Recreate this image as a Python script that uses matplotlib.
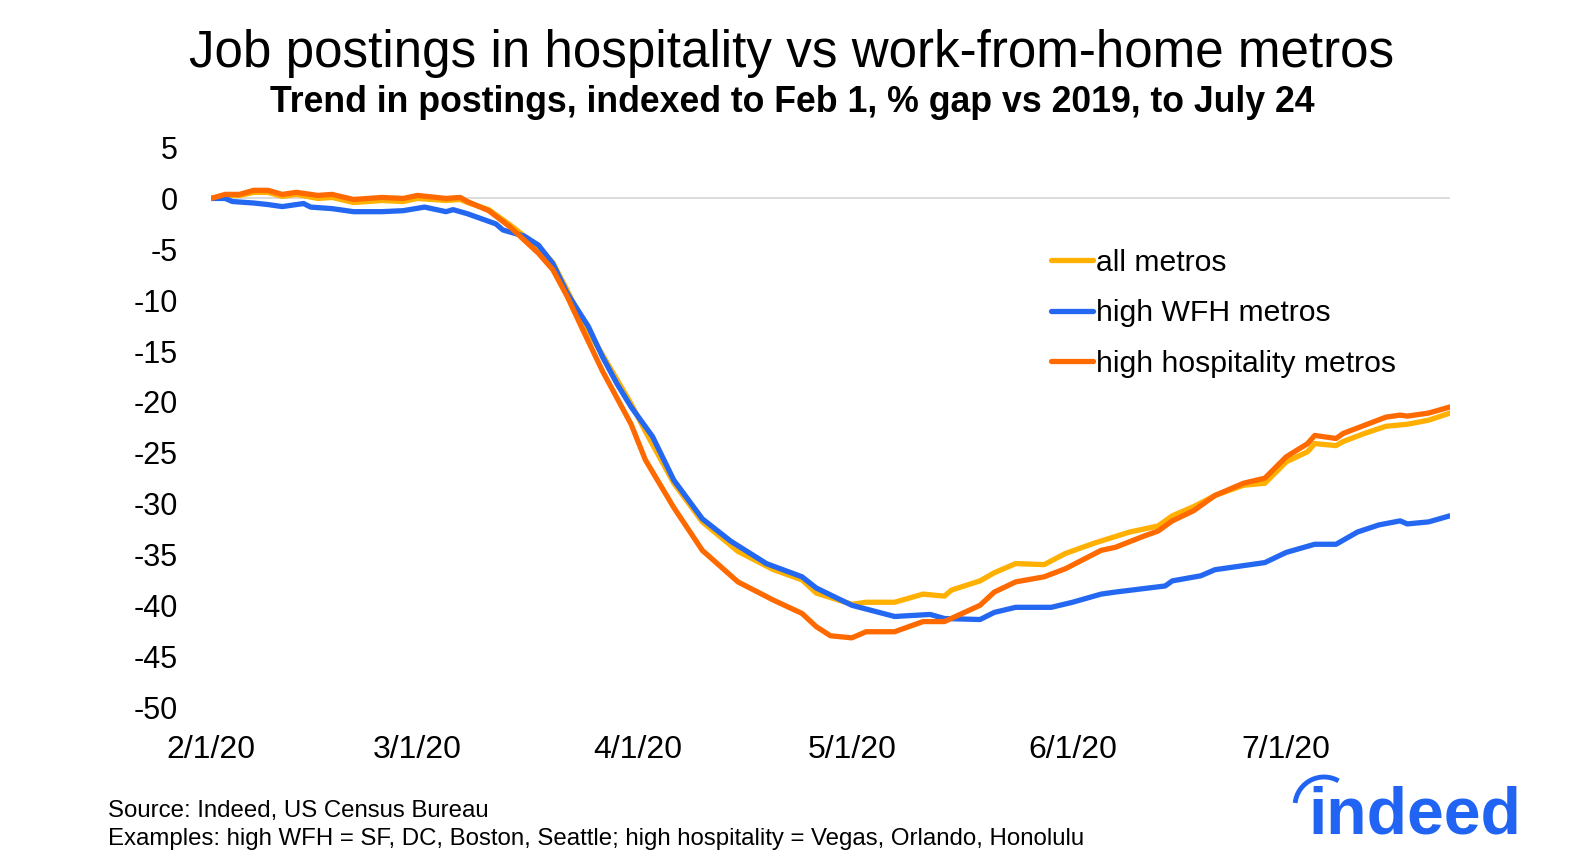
import pandas as pd
import matplotlib
matplotlib.use("Agg")
import matplotlib.pyplot as plt
from matplotlib.patches import Arc

plt.rcParams['font.family'] = ['Liberation Sans', 'DejaVu Sans']
plt.rcParams['axes.unicode_minus'] = False

start = pd.Timestamp("2020-02-01")

# days after Feb 1, % gap vs 2019
all_days = [0, 2, 4, 6, 8, 10, 12, 15, 17, 20, 24, 27, 29, 33, 35, 36, 39, 42, 44, 46,
            48, 50, 52, 55, 57, 59, 61, 65, 69, 74, 79, 83, 85, 90, 92, 96, 100, 103, 104, 108,
            110, 113, 117, 120, 124, 129, 133, 135, 138, 141, 145, 148, 151, 154, 155, 158, 159, 162, 165, 168,
            171, 174]
all_vals = [0.0, 0.3, 0.3, 0.6, 0.6, 0.2, 0.4, 0.0, 0.1, -0.4, -0.2, -0.3, 0.0, -0.2, -0.1, -0.4, -1.1, -2.6, -3.7, -4.8,
            -6.3, -9.0, -11.9, -15.4, -17.8, -20.2, -22.9, -28.0, -31.8, -34.7, -36.5, -37.5, -38.8, -39.9, -39.7, -39.7, -38.9, -39.1, -38.5, -37.6,
            -36.8, -35.9, -36.0, -34.9, -33.9, -32.8, -32.2, -31.2, -30.3, -29.2, -28.2, -28.0, -25.9, -24.9, -24.1, -24.3, -23.9, -23.1, -22.4, -22.2,
            -21.8, -21.1]

wfh_days = [0, 2, 3, 6, 8, 10, 13, 14, 17, 20, 24, 27, 30, 33, 34, 36, 40, 41, 44, 46,
            48, 50, 53, 55, 57, 59, 62, 65, 69, 73, 78, 83, 85, 90, 96, 101, 103, 108, 110, 113,
            118, 121, 125, 127, 134, 135, 139, 141, 148, 151, 155, 158, 161, 164, 167, 168, 171, 174]
wfh_vals = [0.0, 0.0, -0.3, -0.45, -0.6, -0.8, -0.5, -0.85, -1.0, -1.3, -1.3, -1.2, -0.85, -1.3, -1.1, -1.5, -2.5, -3.1, -3.7, -4.6,
            -6.4, -9.3, -12.6, -15.6, -18.2, -20.5, -23.4, -27.7, -31.5, -33.7, -35.9, -37.2, -38.3, -40.0, -41.1, -40.9, -41.3, -41.4, -40.7, -40.2,
            -40.2, -39.7, -38.9, -38.7, -38.1, -37.6, -37.1, -36.5, -35.8, -34.8, -34.0, -34.0, -32.8, -32.1, -31.7, -32.0, -31.8, -31.2]

hosp_days = [0, 2, 4, 6, 8, 10, 12, 15, 17, 20, 24, 27, 29, 33, 35, 36, 39, 42, 44, 46,
             48, 50, 52, 55, 57, 59, 61, 65, 69, 74, 79, 83, 85, 87, 90, 92, 96, 100, 103, 108,
             110, 113, 117, 120, 125, 127, 131, 133, 135, 138, 141, 145, 148, 151, 154, 155, 158, 159, 162, 165,
             167, 168, 171, 174]
hosp_vals = [0.0, 0.4, 0.4, 0.8, 0.8, 0.4, 0.6, 0.3, 0.4, -0.1, 0.1, 0.0, 0.3, 0.0, 0.1, -0.3, -1.2, -2.8, -4.1, -5.4,
             -7.0, -9.6, -12.6, -17.0, -19.6, -22.2, -25.7, -30.4, -34.6, -37.7, -39.5, -40.8, -42.1, -43.0, -43.2, -42.6, -42.6, -41.6, -41.6, -40.0,
             -38.7, -37.7, -37.2, -36.4, -34.6, -34.3, -33.2, -32.7, -31.7, -30.7, -29.2, -28.0, -27.5, -25.4, -24.1, -23.3, -23.6, -23.1, -22.3, -21.5,
             -21.3, -21.4, -21.1, -20.5]

tick_dates = ["2020-02-01", "2020-03-01", "2020-04-01", "2020-05-01", "2020-06-01", "2020-07-01"]
tick_labels = ["2/1/20", "3/1/20", "4/1/20", "5/1/20", "6/1/20", "7/1/20"]


def to_dates(days):
    return start + pd.to_timedelta(days, unit="D")


fig = plt.figure(figsize=(15.84, 8.64), dpi=100)
ax = fig.add_axes([211 / 1584, 1 - 707 / 864, 1239 / 1584, 559.4 / 864])

ax.axhline(0, color="#D9D9D9", lw=1.3, zorder=1)
ax.plot(to_dates(all_days), all_vals, color="#FFB000", lw=3.8, label="all metros",
        solid_capstyle="round", solid_joinstyle="round", zorder=2)
ax.plot(to_dates(wfh_days), wfh_vals, color="#2468F2", lw=3.8, label="high WFH metros",
        solid_capstyle="round", solid_joinstyle="round", zorder=3)
ax.plot(to_dates(hosp_days), hosp_vals, color="#FF6A00", lw=3.8, label="high hospitality metros",
        solid_capstyle="round", solid_joinstyle="round", zorder=4)

ax.set_xlim(start, start + pd.Timedelta(days=174))
ax.set_ylim(-50, 5)
ax.set_yticks(range(-50, 6, 5))
ax.set_xticks(pd.to_datetime(tick_dates))
ax.set_xticklabels(tick_labels)
ax.tick_params(axis="both", length=0)
ax.tick_params(axis="y", pad=24, labelsize=22)
ax.tick_params(axis="x", pad=20, labelsize=23)
for s in ax.spines.values():
    s.set_visible(False)

ax.legend(loc="upper left", bbox_to_anchor=(1051 / 1584, 1 - 249 / 864), bbox_transform=fig.transFigure,
          frameon=False, fontsize=21.7, handlelength=1.4, handletextpad=0.1, labelspacing=0.74,
          borderpad=0, borderaxespad=0)

fig.text(0.5, 1 - 67 / 864, "Job postings in hospitality vs work-from-home metros",
         ha="center", va="baseline", fontsize=36.8)
fig.text(0.5, 1 - 112 / 864, "Trend in postings, indexed to Feb 1, % gap vs 2019, to July 24",
         ha="center", va="baseline", fontsize=25.7, fontweight="bold")
fig.text(108 / 1584, 1 - 817 / 864, "Source: Indeed, US Census Bureau", fontsize=17.3, va="baseline")
fig.text(108 / 1584, 1 - 845 / 864,
         "Examples: high WFH = SF, DC, Boston, Seattle; high hospitality = Vegas, Orlando, Honolulu",
         fontsize=17.3, va="baseline")

# indeed logo
lax = fig.add_axes([1280 / 1584, 24 / 864, 250 / 1584, 75 / 864])
lax.set_xlim(1280, 1530)
lax.set_ylim(24, 99)
lax.axis("off")
lax.text(1308, 31, "indeed", color="#2164F3", fontsize=47.5, fontweight="bold", va="baseline", ha="left")
lax.add_patch(Arc((1324, 58), 58, 58, theta1=60, theta2=174, color="#2164F3", lw=3.5))

fig.savefig("out.png", dpi=100)
